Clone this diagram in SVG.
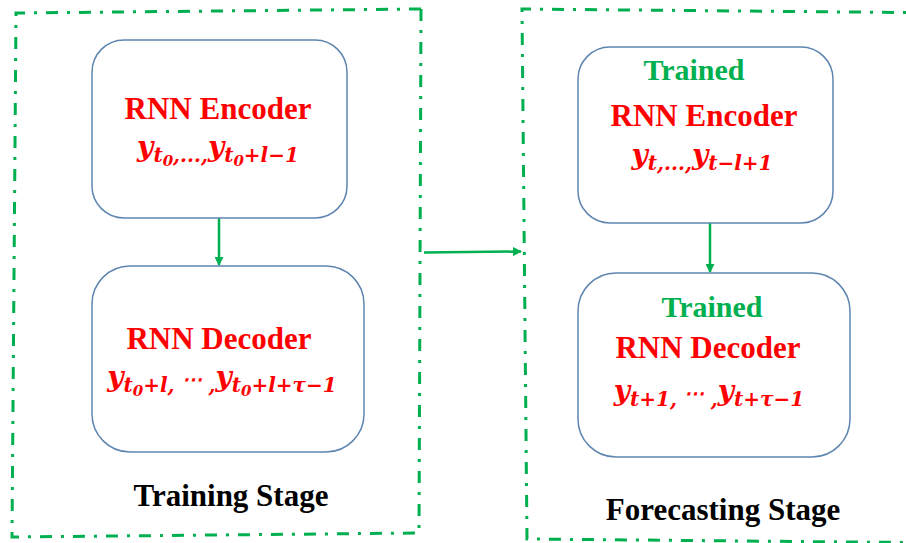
<svg xmlns="http://www.w3.org/2000/svg" width="906" height="543" viewBox="0 0 906 543">
<style>
.frame{fill:none;stroke:#00B050;stroke-width:3;stroke-dasharray:12 9 3 9}
.box{fill:#fff;stroke:#5E85B0;stroke-width:1.5}
.conn{stroke:#00B050;stroke-width:2.5;fill:none}
.red{fill:#FF0000}
.grn{fill:#00B050}
.blk{fill:#000}
</style>
<defs>
<marker id="ah" markerWidth="9" markerHeight="9" refX="8" refY="4.5" orient="auto" markerUnits="userSpaceOnUse">
<path d="M0,0 L9,4.5 L0,9 Z" fill="#00B050"/>
</marker>
</defs>
<rect width="906" height="543" fill="#fff"/>
<g id="training-frame">
<path class="frame" d="M421,9 L16,13 L12,537 L419,533 Z"/>
<text class="blk" x="231" y="506" font-family="Liberation Serif" font-weight="bold" font-size="31" text-anchor="middle">Training Stage</text>
</g>
<g id="forecasting-frame">
<path class="frame" d="M960,13 L522,9 L527,539 L960,543"/>
<text class="blk" x="723" y="520" font-family="Liberation Serif" font-weight="bold" font-size="31" text-anchor="middle">Forecasting Stage</text>
</g>
<g id="connectors">
<line class="conn" x1="219" y1="218" x2="219" y2="265" marker-end="url(#ah)"/>
<line class="conn" x1="710" y1="223" x2="710" y2="272" marker-end="url(#ah)"/>
<line class="conn" x1="424" y1="252.5" x2="521" y2="251.5" marker-end="url(#ah)"/>
</g>
<g id="train-encoder">
<rect class="box" x="92" y="40" width="255" height="178" rx="32"/>
<text class="red" x="218" y="119" font-family="Liberation Serif" font-weight="bold" font-size="31" text-anchor="middle">RNN Encoder</text>
<text class="red" x="218" y="156" font-family="DejaVu Serif" font-weight="bold" font-style="italic" text-anchor="middle"><tspan font-size="28">y</tspan><tspan font-size="20" dy="6">t</tspan><tspan font-size="15" dy="4">0</tspan><tspan font-size="20" dy="-4">,...,</tspan><tspan font-size="28" dy="-6">y</tspan><tspan font-size="20" dy="6">t</tspan><tspan font-size="15" dy="4">0</tspan><tspan font-size="20" dy="-4">+l−1</tspan></text>
</g>
<g id="train-decoder">
<rect class="box" x="92" y="266" width="272" height="186" rx="38"/>
<text class="red" x="219" y="349" font-family="Liberation Serif" font-weight="bold" font-size="31" text-anchor="middle">RNN Decoder</text>
<text class="red" x="222" y="386" font-family="DejaVu Serif" font-weight="bold" font-style="italic" text-anchor="middle"><tspan font-size="28">y</tspan><tspan font-size="20" dy="6">t</tspan><tspan font-size="15" dy="4">0</tspan><tspan font-size="20" dy="-4">+l,</tspan><tspan font-size="20" dy="-6"> ⋯ </tspan><tspan font-size="20" dy="6">,</tspan><tspan font-size="28" dy="-6">y</tspan><tspan font-size="20" dy="6">t</tspan><tspan font-size="15" dy="4">0</tspan><tspan font-size="20" dy="-4">+l+τ−1</tspan></text>
</g>
<g id="fc-encoder">
<rect class="box" x="578" y="47" width="255" height="176" rx="32"/>
<text class="grn" x="694" y="80" font-family="Liberation Serif" font-weight="bold" font-size="30" text-anchor="middle">Trained</text>
<text class="red" x="704" y="126" font-family="Liberation Serif" font-weight="bold" font-size="31" text-anchor="middle">RNN Encoder</text>
<text class="red" x="702" y="164" font-family="DejaVu Serif" font-weight="bold" font-style="italic" text-anchor="middle"><tspan font-size="28">y</tspan><tspan font-size="20" dy="6">t,...,</tspan><tspan font-size="28" dy="-6">y</tspan><tspan font-size="20" dy="6">t−l+1</tspan></text>
</g>
<g id="fc-decoder">
<rect class="box" x="578" y="273" width="272" height="184" rx="38"/>
<text class="grn" x="712" y="317" font-family="Liberation Serif" font-weight="bold" font-size="30" text-anchor="middle">Trained</text>
<text class="red" x="708" y="358" font-family="Liberation Serif" font-weight="bold" font-size="31" text-anchor="middle">RNN Decoder</text>
<text class="red" x="709" y="400" font-family="DejaVu Serif" font-weight="bold" font-style="italic" text-anchor="middle"><tspan font-size="28">y</tspan><tspan font-size="20" dy="6">t+1,</tspan><tspan font-size="20" dy="-6"> ⋯ </tspan><tspan font-size="20" dy="6">,</tspan><tspan font-size="28" dy="-6">y</tspan><tspan font-size="20" dy="6">t+τ−1</tspan></text>
</g>
</svg>
